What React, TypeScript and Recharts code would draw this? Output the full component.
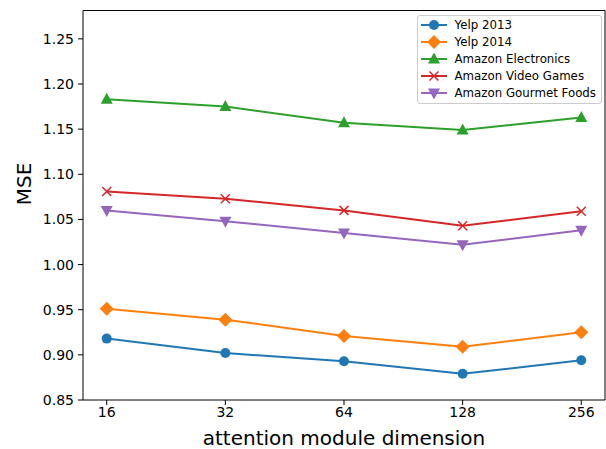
import React from "react"
import { LineChart, Line, XAxis, YAxis, Label } from "recharts"

const dims = ["16", "32", "64", "128", "256"]
const yelp2013 = [0.918, 0.902, 0.893, 0.879, 0.894]
const yelp2014 = [0.951, 0.939, 0.921, 0.909, 0.925]
const electronics = [1.183, 1.175, 1.157, 1.149, 1.163]
const videoGames = [1.081, 1.073, 1.06, 1.043, 1.059]
const gourmet = [1.06, 1.048, 1.035, 1.022, 1.038]
const yTicks = [0.85, 0.9, 0.95, 1.0, 1.05, 1.1, 1.15, 1.2, 1.25]

const data = dims.map((d, i) => ({
  idx: i,
  dim: d,
  yelp2013: yelp2013[i],
  yelp2014: yelp2014[i],
  electronics: electronics[i],
  videoGames: videoGames[i],
  gourmet: gourmet[i],
}))

const series = [
  { key: "yelp2013", name: "Yelp 2013", color: "#1f77b4", marker: "circle" },
  { key: "yelp2014", name: "Yelp 2014", color: "#ff7f0e", marker: "diamond" },
  { key: "electronics", name: "Amazon Electronics", color: "#2ca02c", marker: "triUp" },
  { key: "videoGames", name: "Amazon Video Games", color: "#d62728", marker: "x" },
  { key: "gourmet", name: "Amazon Gourmet Foods", color: "#9467bd", marker: "triDown" },
]

const font = "DejaVu Sans, sans-serif"

function Marker({ cx, cy, kind, color }: any) {
  if (cx == null || cy == null) return null
  switch (kind) {
    case "circle":
      return <circle cx={cx} cy={cy} r={5} fill={color} />
    case "diamond":
      return <polygon points={`${cx},${cy - 7} ${cx + 7},${cy} ${cx},${cy + 7} ${cx - 7},${cy}`} fill={color} />
    case "triUp":
      return <polygon points={`${cx},${cy - 6.5} ${cx + 6},${cy + 4.5} ${cx - 6},${cy + 4.5}`} fill={color} />
    case "triDown":
      return <polygon points={`${cx},${cy + 6.5} ${cx + 6},${cy - 4.5} ${cx - 6},${cy - 4.5}`} fill={color} />
    case "x":
      return (
        <g stroke={color} strokeWidth={1.5}>
          <line x1={cx - 4.5} y1={cy - 4.5} x2={cx + 4.5} y2={cy + 4.5} />
          <line x1={cx - 4.5} y1={cy + 4.5} x2={cx + 4.5} y2={cy - 4.5} />
        </g>
      )
  }
  return null
}

function LegendBox() {
  return (
    <div
      style={{
        position: "absolute",
        top: 15,
        right: 4,
        border: "1px solid #cccccc",
        borderRadius: 3,
        background: "rgba(255,255,255,0.8)",
        padding: "1px 5px 2px 3px",
        fontFamily: font,
        fontSize: 11.8,
        color: "#000",
      }}
    >
      {series.map((s) => (
        <div key={s.key} style={{ display: "flex", alignItems: "center", height: 16.8 }}>
          <svg width={26} height={14} style={{ marginRight: 8 }}>
            <line x1={0} y1={7} x2={26} y2={7} stroke={s.color} strokeWidth={2} />
            <Marker cx={13} cy={7} kind={s.marker} color={s.color} />
          </svg>
          <span>{s.name}</span>
        </div>
      ))}
    </div>
  )
}

export default function App() {
  return (
    <div style={{ position: "absolute", left: 0, top: 0, width: 606, height: 449, background: "#fff" }}>
      <LineChart width={606} height={449} data={data} margin={{ top: 10, right: 0, bottom: 0, left: 0 }}>
        <XAxis
          dataKey="idx"
          type="number"
          domain={[-0.2, 4.2]}
          ticks={[0, 1, 2, 3, 4]}
          tickFormatter={(v) => dims[v]}
          height={49}
          stroke="#000"
          tick={{ fill: "#000", fontSize: 14, fontFamily: font }}
          tickSize={5}
          tickMargin={2}
        >
          <Label value="attention module dimension" position="insideBottom" offset={4} fill="#000" fontSize={20} fontFamily={font} />
        </XAxis>
        <XAxis xAxisId="top" dataKey="idx" type="number" domain={[-0.2, 4.2]} orientation="top" height={0.5} tick={false} tickLine={false} stroke="#000" />
        <YAxis
          type="number"
          domain={[0.85, 1.2814]}
          ticks={yTicks}
          tickFormatter={(v) => v.toFixed(2)}
          width={83}
          stroke="#000"
          tick={{ fill: "#000", fontSize: 14, fontFamily: font }}
          tickSize={5}
          tickMargin={4}
          allowDataOverflow
        >
          <Label value="MSE" angle={-90} position="insideLeft" offset={24} fill="#000" fontSize={20} fontFamily={font} />
        </YAxis>
        <YAxis yAxisId="right" orientation="right" width={1} tick={false} tickLine={false} stroke="#000" domain={[0.85, 1.2814]} />
        {series.map((s) => (
          <Line
            key={s.key}
            dataKey={s.key}
            name={s.name}
            stroke={s.color}
            strokeWidth={2}
            isAnimationActive={false}
            dot={(p: any) => <Marker key={`${s.key}-${p.index}`} cx={p.cx} cy={p.cy} kind={s.marker} color={s.color} />}
            activeDot={false}
          />
        ))}
      </LineChart>
      <LegendBox />
    </div>
  )
}
